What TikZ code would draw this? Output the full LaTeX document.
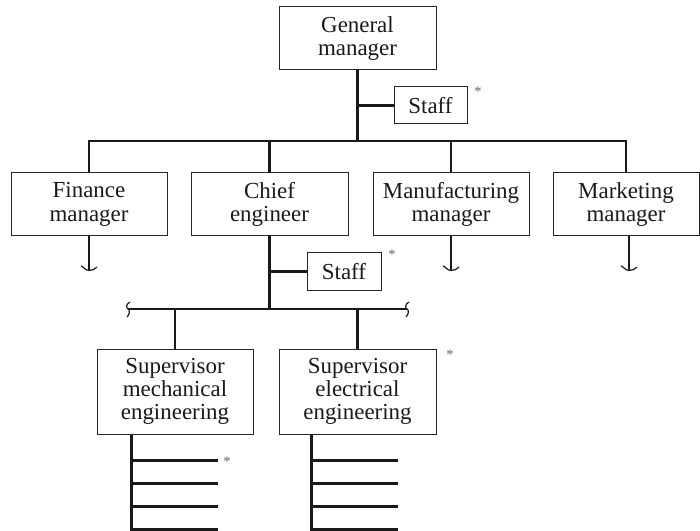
\documentclass[tikz,border=0pt]{standalone}
\usepackage{fontspec}
\setmainfont{Liberation Serif}
\usetikzlibrary{calc}
\begin{document}
\begin{tikzpicture}[x=0.75pt,y=-0.75pt,
  box/.style={draw=black!85,line width=0.75pt,inner sep=0pt,align=center,
    minimum height=47.25pt,text=black!90,font=\fontsize{17.2}{17.5}\selectfont},
  conn/.style={draw=black!90,line width=1.8pt,line join=miter},
  brk/.style={draw=black!90,line width=0.9pt},
  ast/.style={inner sep=0pt,text=black!60,font=\fontsize{11}{11}\selectfont},
  hbreak/.pic={\draw[brk] (-8,-3.5) .. controls (-6,-3.5) and (-4,1) .. (0,1)
                 .. controls (3,1) and (6,0) .. (8,-2.5);},
  vbreak/.pic={\draw[brk] (2,-7) .. controls (-2,-5) and (-2,-1) .. (0,0)
                 .. controls (2,1) and (2,5) .. (-1,8);}
]
\useasboundingbox (0,0) rectangle (700,531);

% boxes
\node[box, minimum width=117.75pt] (gm) at (357.5,38.5) {General\\manager};
\node[box, minimum width=54.75pt, minimum height=27.75pt] (staffa) at (430.5,105.5) {Staff};
\node[box, minimum width=117pt] (fin) at (89,204.5) {Finance\\manager};
\node[box, minimum width=117.75pt] (chief) at (269.5,204.5) {Chief\\engineer};
\node[box, minimum width=117pt] (mfg) at (451,204.5) {Manufacturing\\manager};
\node[box, minimum width=109.5pt] (mkt) at (626,204.5) {Marketing\\manager};
\node[box, minimum width=55.5pt, minimum height=27.75pt] (staffb) at (344,271.5) {Staff};
\node[box, minimum width=117pt, minimum height=63.75pt] (mech) at (175,391.5) {Supervisor\\mechanical\\engineering};
\node[box, minimum width=117.75pt, minimum height=63.75pt] (elec) at (357.5,391.5) {Supervisor\\electrical\\engineering};

% top level bus
\coordinate (bus1) at (357.5,141);
\draw[conn] (gm.south) -- (bus1);
\draw[conn] (gm.south |- staffa.west) -- (staffa.west);
\draw[conn] (fin.north) |- (bus1) -| (mkt.north);
\draw[conn] (chief.north) -- (chief.north |- bus1);
\draw[conn] (mfg.north) -- (mfg.north |- bus1);

% broken continuations below the managers
\draw[conn] (fin.south) -- ++(0,33) coordinate (finbrk);
\draw[conn] (mfg.south) -- ++(0,33) coordinate (mfgbrk);
\draw[conn] ([xshift=2.25pt]mkt.south) -- ++(0,33) coordinate (mktbrk);
\pic at (finbrk) {hbreak};
\pic at (mfgbrk) {hbreak};
\pic at (mktbrk) {hbreak};

% chief engineer branch
\coordinate (bus2) at (269.5,309);
\coordinate (bus2l) at (128,309);
\coordinate (bus2r) at (407,309);
\draw[conn] (chief.south) -- (bus2);
\draw[conn] (chief.south |- staffb.west) -- (staffb.west);
\draw[conn] (bus2l) -- (bus2r);
\pic at (bus2l) {vbreak};
\pic at (bus2r) {vbreak};
\draw[conn] (mech.north) -- (mech.north |- bus2);
\draw[conn] (elec.north) -- (elec.north |- bus2);

% subordinate lines under the supervisors
\draw[conn] ($(mech.south west)+(35,0)$) -- ++(0,95) -- ++(86,0);
\foreach \d in {26,49,72}
  \draw[conn] ($(mech.south west)+(35,\d)$) -- ++(86,0);
\draw[conn] ($(elec.south west)+(33,0)$) -- ++(0,95) -- ++(86,0);
\foreach \d in {26,49,72}
  \draw[conn] ($(elec.south west)+(33,\d)$) -- ++(86,0);

% asterisks
\node[ast] (asta) at (478,92) {*};
\node[ast] (astb) at (392,255) {*};
\node[ast] (astc) at (450,355) {*};
\node[ast] (astd) at (227,462) {*};
\end{tikzpicture}
\end{document}
